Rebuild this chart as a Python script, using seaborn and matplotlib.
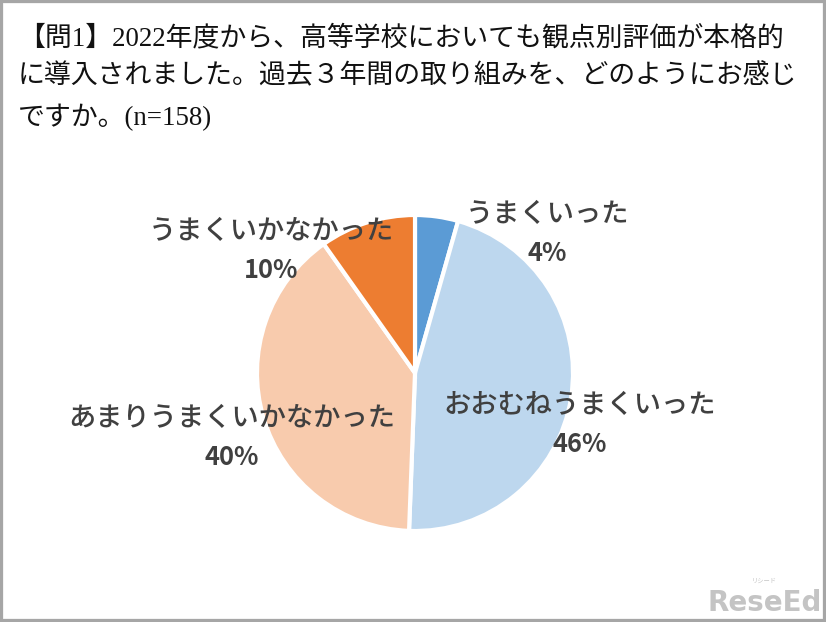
import matplotlib
matplotlib.use("Agg")
import matplotlib.pyplot as plt
import seaborn as sns
from matplotlib.patches import Rectangle

sns.set_theme(style="white")
plt.rcParams['font.family'] = ['Noto Sans CJK JP', 'DejaVu Sans']

# ---- data ----
categories = ["うまくいった", "おおむねうまくいった", "あまりうまくいかなかった", "うまくいかなかった"]
values = [4.4, 46.2, 39.6, 9.8]
pct_labels = ["4%", "46%", "40%", "10%"]
colors = ["#5B9BD5", "#BDD7EE", "#F8CBAD", "#ED7D31"]
title_text = "【問1】2022年度から、高等学校においても観点別評価が本格的\nに導入されました。過去３年間の取り組みを、どのようにお感じ\nですか。(n=158)"

# label block centres (in pie-radius units, relative to pie centre)
label_pos = [(0.84, 0.88), (1.04, -0.33), (-1.16, -0.41), (-0.91, 0.77)]

W, H = 826, 622
fig = plt.figure(figsize=(W / 100, H / 100), dpi=100)
fig.patch.set_facecolor("white")

cx, cy, r = 415, 373, 158
ax = fig.add_axes([(cx - r) / W, (H - cy - r) / H, 2 * r / W, 2 * r / H])
ax.pie(values, colors=colors, startangle=90, counterclock=False,
       wedgeprops=dict(edgecolor="white", linewidth=3.0))
ax.set_xlim(-1, 1)
ax.set_ylim(-1, 1)
ax.set_aspect("equal")
ax.axis("off")

txt_color = "#404040"
dy = 19.5 / r
for (x, y), name, pct in zip(label_pos, categories, pct_labels):
    ax.text(x, y + dy, name, ha="center", va="center", fontsize=19.6,
            fontweight="medium", color=txt_color, clip_on=False)
    ax.text(x, y - dy, pct, ha="center", va="center", fontsize=18.3,
            fontweight="bold", color=txt_color, clip_on=False)

# title
fig.text(18 / W, 1 - 78 / H, title_text, ha="left", va="center", fontsize=19.4,
         color="#111111", linespacing=1.66,
         family=['Liberation Serif', 'Noto Sans CJK JP'])

# watermark
fig.text(1 - 4 / W, 5 / H, "ReseEd", ha="right", va="bottom", fontsize=20,
         fontweight="bold", color="#c4c4c4", family=['DejaVu Sans'])
fig.text(1 - 62 / W, 37 / H, "リシード", ha="center", va="bottom", fontsize=4.5,
         color="#c4c4c4")

# border
fig.patches.append(Rectangle((0, 0), 1, 1, transform=fig.transFigure,
                             fill=False, edgecolor="#a6a6a6", linewidth=4.5))

fig.savefig("out.png", dpi=100)
